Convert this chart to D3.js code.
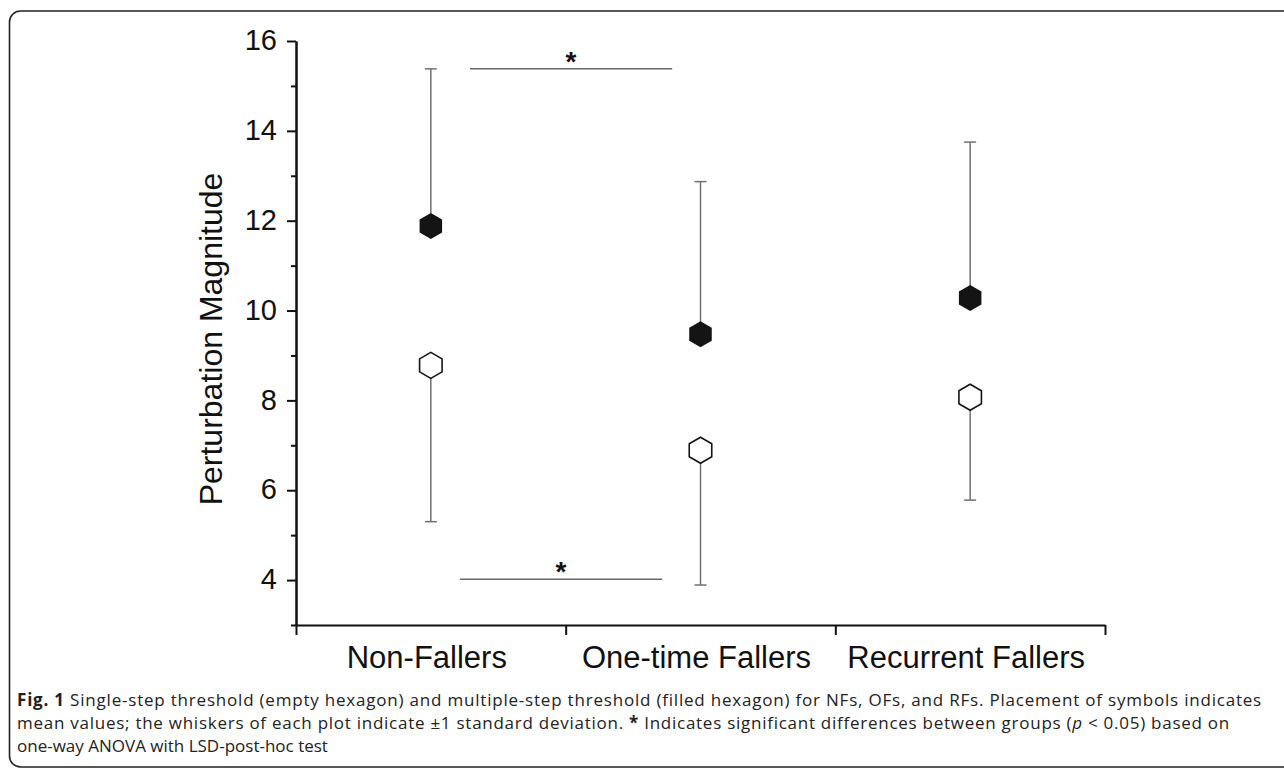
<!DOCTYPE html>
<html>
<head>
<meta charset="utf-8">
<script src="https://cdn.jsdelivr.net/npm/d3@7"></script>
<style>
  html, body { margin: 0; padding: 0; background: #fff; }
  #chart { width: 1284px; height: 770px; }
  text { font-family: "Liberation Sans", Arial, sans-serif; fill: #111; }
  .caption { font-family: "Open Sans", "Noto Sans", sans-serif; font-size: 17px; fill: #222; }
</style>
</head>
<body>
<div id="chart"></div>
<script>
// Data
const groups = ['Non-Fallers', 'One-time Fallers', 'Recurrent Fallers'];
const multiStepMean = [11.88, 9.47, 10.28];   // filled hexagon
const multiStepUpper = [15.38, 12.87, 13.75]; // +1 SD
const singleStepMean = [8.78, 6.89, 8.07];    // empty hexagon
const singleStepLower = [5.30, 3.89, 5.78];   // -1 SD
const yMajorTicks = [4, 6, 8, 10, 12, 14, 16];
const yMinorTicks = [3, 5, 7, 9, 11, 13, 15];
// significance bars: position along category index, height in data units
const sigBars = [
    {x0: 0.145, x1: 0.895, y: 15.38},
    {x0: 0.108, x1: 0.857, y: 4.02}
];
const captionLines = [
    [{t: 'Fig. 1', b: true}, {t: ' Single-step threshold (empty hexagon) and multiple-step threshold (filled hexagon) for NFs, OFs, and RFs. Placement of symbols indicates'}],
    [{t: 'mean values; the whiskers of each plot indicate \u00b11 standard deviation. '}, {t: '*', b: true}, {t: ' Indicates significant differences between groups ('}, {t: 'p', i: true}, {t: ' < 0.05) based on'}],
    [{t: 'one-way ANOVA with LSD-post-hoc test'}]
];
const captionWidths = [1245, 1213, null];

function drawChart() {
    const width = 1284, height = 770;
    const svg = d3.select('#chart').append('svg')
        .attr('width', width)
        .attr('height', height);

    // rounded frame, right edge runs off the picture
    svg.append('rect')
        .attr('x', 9.5).attr('y', 11)
        .attr('width', 1310).attr('height', 756)
        .attr('rx', 11)
        .attr('fill', 'none')
        .attr('stroke', '#222')
        .attr('stroke-width', 1.6);

    const plot = {left: 296, right: 1105, top: 41, bottom: 625};

    const y = d3.scaleLinear().domain([3, 16]).range([plot.bottom, plot.top]);
    const x = d3.scaleBand().domain(groups).range([plot.left, plot.right]).padding(0);
    const xIdx = d3.scaleLinear().domain([-0.5, groups.length - 0.5]).range([plot.left, plot.right]);
    const xEdge = d3.scaleLinear().domain([0, groups.length]).range([plot.left, plot.right]);
    const cx = g => x(g) + x.bandwidth() / 2;

    // Y axis: major ticks with labels
    const yAxis = svg.append('g')
        .attr('transform', `translate(${plot.left},0)`)
        .call(d3.axisLeft(y).tickValues(yMajorTicks).tickSize(9).tickSizeOuter(0).tickPadding(10));
    yAxis.selectAll('text')
        .style('font-size', '29px')
        .style('font-family', '"Liberation Sans", Arial, sans-serif')
        .attr('fill', '#111')
        .attr('dy', '0.3em');

    // Y axis: minor ticks
    svg.append('g')
        .attr('transform', `translate(${plot.left},0)`)
        .call(d3.axisLeft(y).tickValues(yMinorTicks).tickSize(5).tickSizeOuter(0).tickFormat(''));

    // X axis with ticks at the group boundaries
    svg.append('g')
        .attr('transform', `translate(0,${plot.bottom})`)
        .call(d3.axisBottom(xEdge).tickValues(d3.range(groups.length + 1)).tickSize(10).tickSizeOuter(0).tickFormat(''));

    svg.selectAll('.domain, .tick line')
        .attr('stroke', '#111')
        .attr('stroke-width', 2);

    // group labels
    svg.selectAll('.group-label')
        .data(groups)
        .enter().append('text')
        .attr('class', 'group-label')
        .attr('x', d => cx(d) - 4)
        .attr('y', 668)
        .attr('text-anchor', 'middle')
        .style('font-size', '31px')
        .text(d => d);

    // Y axis title
    svg.append('text')
        .attr('transform', `translate(222,${(plot.top + plot.bottom) / 2 + 6}) rotate(-90)`)
        .attr('text-anchor', 'middle')
        .style('font-size', '32px')
        .text('Perturbation Magnitude');

    const errColor = '#707070';
    const capHalf = 6;

    // whiskers: filled up to +SD, empty down to -SD
    const whiskers = groups.map((g, i) => ({g, from: multiStepMean[i], to: multiStepUpper[i]}))
        .concat(groups.map((g, i) => ({g, from: singleStepMean[i], to: singleStepLower[i]})));

    svg.selectAll('.whisker')
        .data(whiskers)
        .enter().append('line')
        .attr('class', 'whisker')
        .attr('x1', d => cx(d.g)).attr('x2', d => cx(d.g))
        .attr('y1', d => y(d.from)).attr('y2', d => y(d.to))
        .attr('stroke', errColor).attr('stroke-width', 1.5);

    svg.selectAll('.cap')
        .data(whiskers)
        .enter().append('line')
        .attr('class', 'cap')
        .attr('x1', d => cx(d.g) - capHalf).attr('x2', d => cx(d.g) + capHalf)
        .attr('y1', d => y(d.to)).attr('y2', d => y(d.to))
        .attr('stroke', errColor).attr('stroke-width', 1.5);

    // hexagon shape, pointy top
    const hexR = 13;
    const hexPath = d3.line()(d3.range(6).map(k => {
        const a = (-90 + 60 * k) * Math.PI / 180;
        return [hexR * Math.cos(a), hexR * Math.sin(a)];
    })) + 'Z';

    svg.selectAll('.hex-filled')
        .data(groups)
        .enter().append('path')
        .attr('class', 'hex-filled')
        .attr('transform', (d, i) => `translate(${cx(d)},${y(multiStepMean[i])})`)
        .attr('d', hexPath)
        .attr('fill', '#141414');

    svg.selectAll('.hex-empty')
        .data(groups)
        .enter().append('path')
        .attr('class', 'hex-empty')
        .attr('transform', (d, i) => `translate(${cx(d)},${y(singleStepMean[i])})`)
        .attr('d', hexPath)
        .attr('fill', '#fff')
        .attr('stroke', '#141414')
        .attr('stroke-width', 1.6);

    // significance bars
    svg.selectAll('.sig-line')
        .data(sigBars)
        .enter().append('line')
        .attr('class', 'sig-line')
        .attr('x1', d => xIdx(d.x0)).attr('x2', d => xIdx(d.x1))
        .attr('y1', d => y(d.y)).attr('y2', d => y(d.y))
        .attr('stroke', '#666').attr('stroke-width', 1.5);

    svg.selectAll('.sig-star')
        .data(sigBars)
        .enter().append('text')
        .attr('class', 'sig-star')
        .attr('x', d => (xIdx(d.x0) + xIdx(d.x1)) / 2)
        .attr('y', d => y(d.y) + 2)
        .attr('text-anchor', 'middle')
        .style('font-size', '28px')
        .style('font-weight', 'bold')
        .text('*');

    // caption, first two lines fitted to the width they have in the figure
    const baselines = [706, 729, 752];
    captionLines.forEach((parts, i) => {
        const t = svg.append('text')
            .attr('class', 'caption')
            .attr('x', 17)
            .attr('y', baselines[i]);
        parts.forEach(p => {
            t.append('tspan')
                .style('font-weight', p.b ? 'bold' : null)
                .style('font-style', p.i ? 'italic' : null)
                .text(p.t);
        });
        if (captionWidths[i]) {
            const w = t.node().getComputedTextLength();
            const n = parts.reduce((s, p) => s + p.t.length, 0);
            t.style('letter-spacing', ((captionWidths[i] - w) / n) + 'px');
        }
    });
}

document.addEventListener('DOMContentLoaded', drawChart);
</script>
</body>
</html>
